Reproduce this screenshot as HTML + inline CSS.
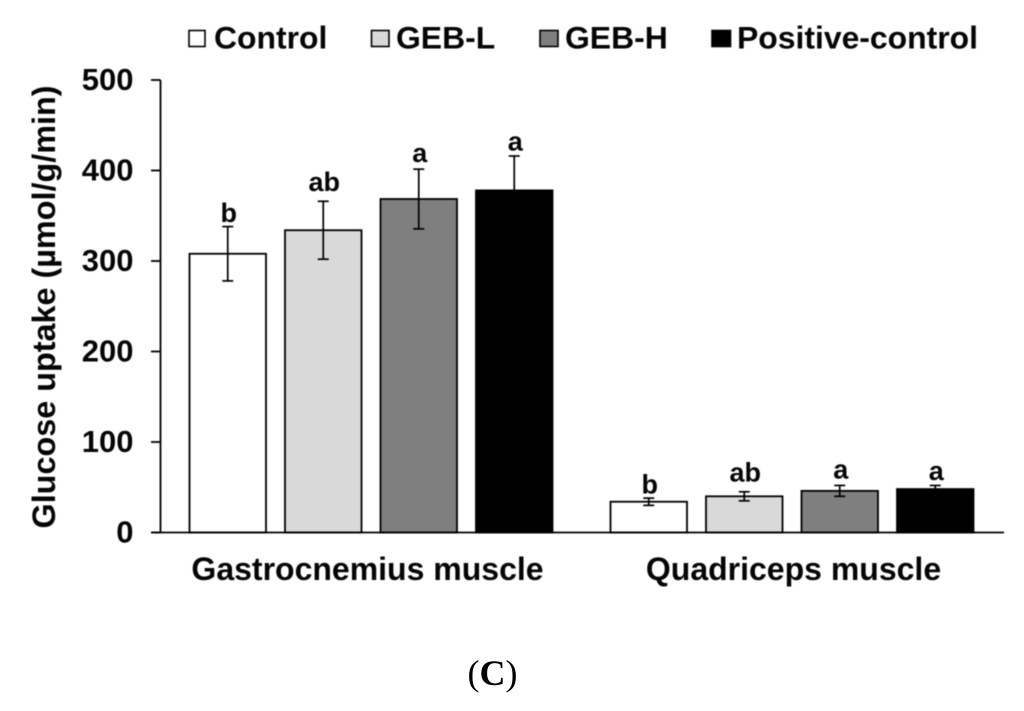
<!DOCTYPE html>
<html lang="en">
<head>
<meta charset="utf-8">
<title>Glucose uptake chart</title>
<style>
html,body{margin:0;padding:0;background:#fff;width:1024px;height:711px;overflow:hidden}
svg{display:block}
text{font-family:"Liberation Sans",Arial,sans-serif;font-weight:bold;fill:#050505}
</style>
</head>
<body>
<svg id="chart" width="1024" height="711" viewBox="0 0 1024 711" xmlns="http://www.w3.org/2000/svg">
  <rect x="0" y="0" width="1024" height="711" fill="#fff"/>
  <g id="content" style="filter:blur(0.45px)"></g>
  <text x="492.5" y="685" text-anchor="middle" style="font-family:'Liberation Serif',serif;font-weight:normal;font-size:36px;fill:#000">(<tspan style="font-weight:bold">C</tspan>)</text>
</svg>
<script>
const categories = ['Gastrocnemius muscle', 'Quadriceps muscle'];
const seriesNames = ['Control', 'GEB-L', 'GEB-H', 'Positive-control'];
const controlValues = [308, 34];
const gebLValues = [334, 40];
const gebHValues = [368.5, 46];
const positiveValues = [378, 48];
const controlErrors = [30, 4];
const gebLErrors = [32, 5];
const gebHErrors = [33, 6];
const positiveErrors = [38, 4];
const controlLetters = ['b', 'b'];
const gebLLetters = ['ab', 'ab'];
const gebHLetters = ['a', 'a'];
const positiveLetters = ['a', 'a'];
const yTicks = [0, 100, 200, 300, 400, 500];
const yTitle = 'Glucose uptake (µmol/g/min)';

const seriesValues = [controlValues, gebLValues, gebHValues, positiveValues];
const seriesErrors = [controlErrors, gebLErrors, gebHErrors, positiveErrors];
const seriesLetters = [controlLetters, gebLLetters, gebHLetters, positiveLetters];
const seriesFills = ['#ffffff', '#d9d9d9', '#7f7f7f', '#000000'];

const NS = 'http://www.w3.org/2000/svg';
const root = document.getElementById('content');
const plot = {left: 160.5, right: 1002.5, top: 80, bottom: 532.5, max: 500};
const y = v => plot.bottom - (v / plot.max) * (plot.bottom - plot.top);
const groupWidth = (plot.right - plot.left) / categories.length;
const groupX = i => plot.left + groupWidth * (i + 0.5);
const barStep = 95.5;
const barWidth = 76.5;
const letterGap = s => 4.5 + (s === 1 ? 6 : s === 2 ? 2.5 : s === 3 ? 1 : 0);
const barX = (g, s) => groupX(g) + (s - (seriesNames.length - 1) / 2) * barStep;

function make(tag, attrs, text) {
  const el = document.createElementNS(NS, tag);
  for (const k in attrs) el.setAttribute(k, attrs[k]);
  if (text !== undefined) el.textContent = text;
  root.appendChild(el);
  return el;
}
function line(x1, y1, x2, y2, w) {
  return make('line', {x1, y1, x2, y2, stroke: '#000', 'stroke-width': w});
}

seriesValues.forEach((values, s) => {
  values.forEach((v, g) => {
    const cx = barX(g, s);
    const bar = make('rect', {x: cx - barWidth / 2, y: y(v), width: barWidth, height: plot.bottom - y(v), fill: seriesFills[s], stroke: '#000', 'stroke-width': 1.8});
    
    
  });
});

seriesValues.forEach((values, s) => {
  values.forEach((v, g) => {
    const cx = barX(g, s);
    const e = seriesErrors[s][g];
    const stem = line(cx, y(v + e), cx, y(v - e), 1.7);
    
    
    const capTop = line(cx - 5.5, y(v + e), cx + 5.5, y(v + e), 1.7);
    
    
    const capBottom = line(cx - 5.5, y(v - e), cx + 5.5, y(v - e), 1.7);
    
    
    const letter = make('text', {x: cx + 1, y: y(v + e) - letterGap(s), 'text-anchor': 'middle', 'font-size': 27}, seriesLetters[s][g]);
    
    
  });
});

const yAxis = line(plot.left, plot.top, plot.left, plot.bottom, 1.8);


const xAxis = line(151, plot.bottom, 1004, plot.bottom, 1.8);



yTicks.forEach(t => {
  const tick = line(151, y(t), plot.left, y(t), 1.8);
  
  
  const label = make('text', {x: 133.5, y: y(t) + 10, 'text-anchor': 'end', 'font-size': 31}, String(t));
  
  
});

categories.forEach((c, g) => {
  const label = make('text', {x: groupX(g) - (g === 0 ? 3.5 : -1.5), y: 580, 'text-anchor': 'middle', 'font-size': 32}, c);
  
  
});

const title = make('text', {transform: 'translate(55,307) rotate(-90)', 'text-anchor': 'middle', 'font-size': 32, textLength: 443, lengthAdjust: 'spacingAndGlyphs'}, yTitle);



const legendSwatchX = [189, 371.5, 540, 712];
const legendSwatchW = [16, 17.5, 18, 18.5];
const legendTextX = [214, 396, 565, 737];
seriesNames.forEach((n, s) => {
  const swatch = make('rect', {x: legendSwatchX[s], y: 30.5, width: legendSwatchW[s], height: 16, fill: seriesFills[s], stroke: '#000', 'stroke-width': 1.6});
  
  
  const label = make('text', {x: legendTextX[s], y: 48.5, 'font-size': 31.9}, n);
  
  
});
</script>
</body>
</html>
